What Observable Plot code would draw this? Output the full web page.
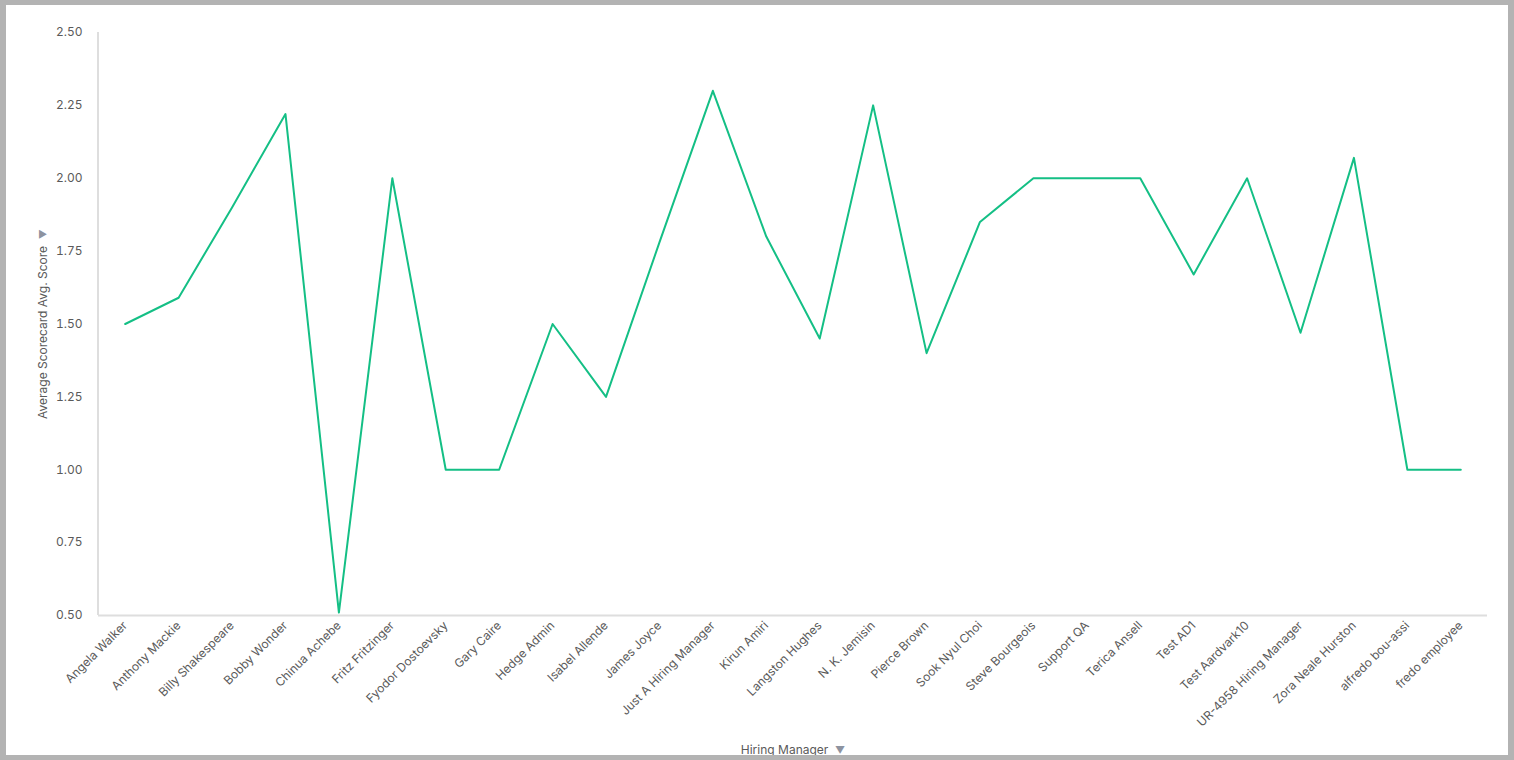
<!DOCTYPE html>
<html>
<head>
<meta charset="utf-8">
<script src="https://cdn.jsdelivr.net/npm/d3@7"></script>
<script src="https://cdn.jsdelivr.net/npm/@observablehq/plot@0.6"></script>
<style>
  html, body { margin: 0; padding: 0; }
  body { width: 1514px; height: 760px; background: #b3b3b3; overflow: hidden; }
  #panel { position: absolute; left: 6px; top: 5px; width: 1502px; height: 750px; background: #fff; }
</style>
</head>
<body>
<div id="panel"></div>
<script>
const managers = [
  "Angela Walker", "Anthony Mackie", "Billy Shakespeare", "Bobby Wonder", "Chinua Achebe",
  "Fritz Fritzinger", "Fyodor Dostoevsky", "Gary Caire", "Hedge Admin", "Isabel Allende",
  "James Joyce", "Just A Hiring Manager", "Kirun Amiri", "Langston Hughes", "N. K. Jemisin",
  "Pierce Brown", "Sook Nyul Choi", "Steve Bourgeois", "Support QA", "Terica Ansell",
  "Test AD1", "Test Aardvark10", "UR-4958 Hiring Manager", "Zora Neale Hurston",
  "alfredo bou-assi", "fredo employee"
];
const scores = [
  1.50, 1.59, 1.90, 2.22, 0.51,
  2.00, 1.00, 1.00, 1.50, 1.25,
  1.78, 2.30, 1.80, 1.45, 2.25,
  1.40, 1.85, 2.00, 2.00, 2.00,
  1.67, 2.00, 1.47, 2.07,
  1.00, 1.00
];
const yTicks = [0.5, 0.75, 1.0, 1.25, 1.5, 1.75, 2.0, 2.25, 2.5];

const data = managers.map((m, i) => ({manager: m, score: scores[i]}));

const chart = Plot.plot({
  width: 1502,
  height: 750,
  marginLeft: 92,
  marginRight: 21,
  marginTop: 27,
  marginBottom: 140,
  style: {fontFamily: "Inter, 'Noto Sans', sans-serif", fontSize: "12px", color: "#444", background: "#fff"},
  x: {type: "point", domain: managers, padding: 0.5, round: false},
  y: {domain: [0.5, 2.5]},
  marks: [
    Plot.ruleY([0.5], {stroke: "#dedede", strokeWidth: 2}),
    Plot.axisX({
      tickSize: 0, tickPadding: 8, tickRotate: -45, fill: "#5a5a5a",
      label: "Hiring Manager ▾", labelAnchor: "center", labelOffset: 138, labelArrow: "none"
    }),
    Plot.axisY({
      ticks: yTicks, tickFormat: d3.format(".2f"), tickSize: 0, tickPadding: 16, fill: "#5a5a5a",
      label: "Average Scorecard Avg. Score ▾", labelAnchor: "center", labelOffset: 60, labelArrow: "none"
    }),
    Plot.line(data, {x: "manager", y: "score", stroke: "#14bf85", strokeWidth: 2})
  ]
});
document.getElementById("panel").appendChild(chart);

const svg = d3.select(chart);
// vertical axis line on left edge of plot area
svg.insert("line", ":first-child")
  .attr("x1", 92).attr("x2", 92).attr("y1", 27).attr("y2", 610)
  .attr("stroke", "#dedede").attr("stroke-width", 2);

// lighter caret in axis labels
svg.selectAll("text").each(function() {
  const t = this.textContent;
  if (t.endsWith(" ▾") && this.childElementCount === 0) {
    const base = t.slice(0, -2);
    const sel = d3.select(this);
    sel.text(null);
    sel.append("tspan").text(base + "  ");
    sel.append("tspan").attr("fill", "#8d93a0").attr("font-size", "10px").text("▼");
  }
});
</script>
</body>
</html>
